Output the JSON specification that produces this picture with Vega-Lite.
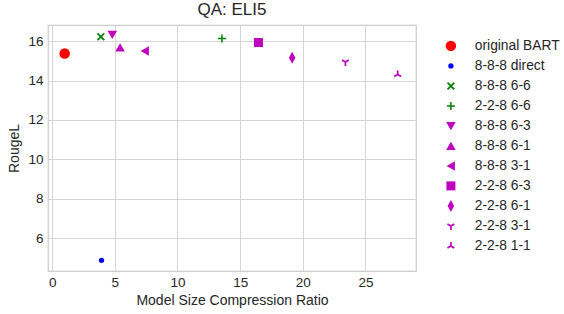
{
  "$schema": "https://vega.github.io/schema/vega-lite/v6.json",
  "width": 368,
  "height": 246,
  "autosize": {"type": "none"},
  "padding": {"left": 48, "top": 25, "right": 148, "bottom": 43},
  "background": "white",
  "title": {"text": "QA: ELI5", "fontSize": 17, "font": "Liberation Sans", "fontWeight": "normal", "color": "#262626", "offset": 6},
  "config": {
    "view": {"stroke": "#cccccc", "strokeWidth": 1.25},
    "axis": {"labelFont": "Liberation Sans", "titleFont": "Liberation Sans", "labelFontSize": 13.5, "titleFontSize": 14, "titleFontWeight": "normal", "labelColor": "#262626", "titleColor": "#262626", "gridColor": "#d5d5d5", "gridWidth": 1, "domain": false, "ticks": false, "gridOpacity": 1},
    "legend": {"labelFont": "Liberation Sans", "labelFontSize": 13.8, "labelColor": "#262626"}
  },
  "data": {"values": [
    {"name": "original BART", "x": 1.0, "y": 15.37},
    {"name": "8-8-8 direct", "x": 3.94, "y": 4.87},
    {"name": "8-8-8 6-6", "x": 3.89, "y": 16.22},
    {"name": "2-2-8 6-6", "x": 13.55, "y": 16.14},
    {"name": "8-8-8 6-3", "x": 4.8, "y": 16.32},
    {"name": "8-8-8 6-1", "x": 5.42, "y": 15.68},
    {"name": "8-8-8 3-1", "x": 7.4, "y": 15.5},
    {"name": "2-2-8 6-3", "x": 16.46, "y": 15.93},
    {"name": "2-2-8 6-1", "x": 19.15, "y": 15.16},
    {"name": "2-2-8 3-1", "x": 23.4, "y": 14.94},
    {"name": "2-2-8 1-1", "x": 27.57, "y": 14.31}
  ]},
  "mark": {"type": "point", "filled": true, "opacity": 1, "strokeWidth": 0},
  "encoding": {
    "x": {"field": "x", "type": "quantitative", "title": "Model Size Compression Ratio",
      "scale": {"domain": [-0.33, 29.03], "nice": false, "zero": false},
      "axis": {"values": [0, 5, 10, 15, 20, 25], "labelPadding": 4, "titlePadding": 5}},
    "y": {"field": "y", "type": "quantitative", "title": "RougeL",
      "scale": {"domain": [4.33, 16.82], "nice": false, "zero": false},
      "axis": {"values": [6, 8, 10, 12, 14, 16], "labelPadding": 5, "titlePadding": 6}},
    "color": {"field": "name", "type": "nominal", "sort": null,
      "scale": {"domain": ["original BART", "8-8-8 direct", "8-8-8 6-6", "2-2-8 6-6", "8-8-8 6-3", "8-8-8 6-1", "8-8-8 3-1", "2-2-8 6-3", "2-2-8 6-1", "2-2-8 3-1", "2-2-8 1-1"],
        "range": ["#ff0000", "#0000ff", "#008000", "#008000", "#bf00bf", "#bf00bf", "#bf00bf", "#bf00bf", "#bf00bf", "#bf00bf", "#bf00bf"]},
      "legend": {"title": null, "orient": "none", "legendX": 396, "legendY": 14, "rowPadding": 5, "labelOffset": 17}},
    "shape": {"field": "name", "type": "nominal", "sort": null,
      "scale": {"domain": ["original BART", "8-8-8 direct", "8-8-8 6-6", "2-2-8 6-6", "8-8-8 6-3", "8-8-8 6-1", "8-8-8 3-1", "2-2-8 6-3", "2-2-8 6-1", "2-2-8 3-1", "2-2-8 1-1"],
        "range": [
          "circle",
          "circle",
          "M -0.8,-0.55 L -0.55,-0.8 L 0,-0.25 L 0.55,-0.8 L 0.8,-0.55 L 0.25,0 L 0.8,0.55 L 0.55,0.8 L 0,0.25 L -0.55,0.8 L -0.8,0.55 L -0.25,0 Z",
          "M -0.15,-0.8 L 0.15,-0.8 L 0.15,-0.15 L 0.8,-0.15 L 0.8,0.15 L 0.15,0.15 L 0.15,0.8 L -0.15,0.8 L -0.15,0.15 L -0.8,0.15 L -0.8,-0.15 L -0.15,-0.15 Z",
          "M -0.95,-0.8 L 0.95,-0.8 L 0,0.85 Z",
          "M 0,-0.85 L 0.95,0.8 L -0.95,0.8 Z",
          "M -0.85,0 L 0.8,-0.95 L 0.8,0.95 Z",
          "M -0.9,-0.9 L 0.9,-0.9 L 0.9,0.9 L -0.9,0.9 Z",
          "M 0,-1.2 L 0.65,0 L 0,1.2 L -0.65,0 Z",
          "M 0.085,-0.147 L -0.608,-0.547 L -0.778,-0.253 L -0.085,0.147 Z M 0.085,0.147 L 0.778,-0.253 L 0.608,-0.547 L -0.085,-0.147 Z M -0.17,0 L -0.17,0.8 L 0.17,0.8 L 0.17,0 Z",
          "M 0.085,0.147 L -0.608,0.547 L -0.778,0.253 L -0.085,-0.147 Z M 0.085,-0.147 L 0.778,0.253 L 0.608,0.547 L -0.085,0.147 Z M -0.17,0 L -0.17,-0.8 L 0.17,-0.8 L 0.17,0 Z"
        ]},
      "legend": {"title": null, "orient": "none", "legendX": 396, "legendY": 14, "rowPadding": 5, "labelOffset": 17}},
    "size": {"field": "name", "type": "nominal", "sort": null,
      "scale": {"type": "ordinal", "domain": ["original BART", "8-8-8 direct", "8-8-8 6-6", "2-2-8 6-6", "8-8-8 6-3", "8-8-8 6-1", "8-8-8 3-1", "2-2-8 6-3", "2-2-8 6-1", "2-2-8 3-1", "2-2-8 1-1"],
        "range": [110, 28, 100, 100, 100, 100, 100, 100, 100, 100, 100]},
      "legend": {"title": null, "orient": "none", "legendX": 396, "legendY": 14, "rowPadding": 5, "labelOffset": 17}}
  }
}
